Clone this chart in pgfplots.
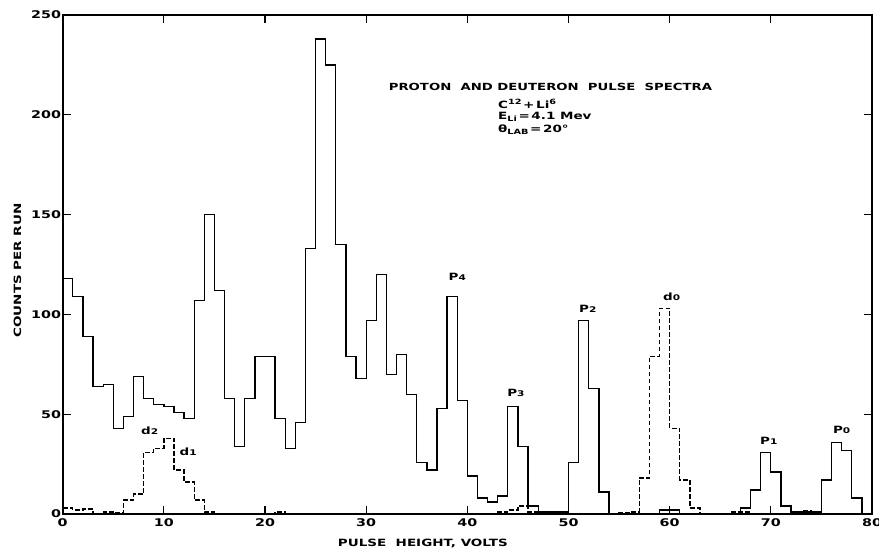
\documentclass[border=0pt]{standalone}
\usepackage{pgfplots}
\pgfplotsset{compat=1.18}
\usepackage{fontspec}
\usetikzlibrary{calc}
\newfontfamily\lbl{DejaVu Sans}[FakeStretch=1.35]
\newcommand{\sm}[1]{{\fontsize{3.9}{4}\selectfont #1}}
\newcommand{\up}[1]{\raisebox{1.6pt}{\fontsize{3.6}{4}\selectfont #1}}
\newcommand{\dn}[1]{\raisebox{-1.2pt}{\fontsize{3.6}{4}\selectfont #1}}

% proton spectrum (solid), value held from x to x+1
\pgfplotstableread{
x y
0 118
1 109
2 89
3 64
4 65
5 43
6 49
7 69
8 58
9 55
10 54
11 51
12 48
13 107
14 150
15 112
16 58
17 34
18 58
19 79
20 79
21 48
22 33
23 46
24 133
25 238
26 225
27 135
28 79
29 68
30 97
31 120
32 70
33 80
34 60
35 26
36 22
37 53
38 109
39 57
40 19
41 8
42 6
43 9
44 54
45 34
46 4
47 1
48 1
49 1
50 26
51 97
52 63
53 11
54 0
58 0
59 2
60 2
61 0
66 0
67 3
68 12
69 31
70 21
71 4
72 1
73 1
74 1
75 17
76 36
77 32
78 8
79 0
80 0
}\protons

% deuteron spectrum (dashed)
\pgfplotstableread{
x y
0 3
1 2
2 2.5
3 0
4 1
5 0.5
6 7
7 10
8 31
9 33
10 38
11 22
12 16
13 7
14 1
15 0
21 1
22 0
43 1
44 2
45 4
46 1
47 0
49 1
50 0
55 0.5
56 1
57 18
58 79
59 103
60 43
61 17
62 3
63 0
66 1
68 0
73 1.5
74 0
80 0
}\deuterons

\begin{document}
\begin{tikzpicture}
\begin{axis}[
  scale only axis,
  width=404.6pt, height=249.5pt,
  xmin=0, xmax=80, ymin=0, ymax=250,
  xtick={0,10,...,80}, ytick={0,50,...,250},
  axis line style={line width=0.8pt},
  major tick length=4pt,
  tick style={line width=0.6pt, black},
  tick label style={font=\lbl\bfseries\fontsize{5.3}{6}\selectfont},
  /pgf/number format/assume math mode=true,
  yticklabel style={inner sep=0.6pt},
  xticklabel style={inner sep=1pt, yshift=-1.3pt},
  clip=false,
]
\addplot[const plot mark left, black, line width=0.65pt] table {\protons};
\addplot[const plot mark left, black, line width=0.65pt,
  dash pattern=on 2.4pt off 1.1pt] table {\deuterons};

\begin{scope}[every node/.style={font=\lbl\bfseries\fontsize{5}{6}\selectfont, inner sep=0pt}]
\node[anchor=west, font=\lbl\bfseries\fontsize{4.9}{6}\selectfont] at (axis cs:32.2,214) {PROTON \ AND DEUTERON \ PULSE \ SPECTRA};
\node[anchor=west] at (axis cs:43,205.5) {C\up{12}\,+\,Li\up{6}};
\node[anchor=west] at (axis cs:43,199) {E\dn{Li}\,=\,4.1 Mev};
\node[anchor=west] at (axis cs:43,192.5) {θ\dn{LAB}\,=\,20°};

\node at (axis cs:8.6,41.5) {d\sm{2}};
\node at (axis cs:12.4,31.3) {d\sm{1}};
\node at (axis cs:39.0,118.6) {P\sm{4}};
\node at (axis cs:44.8,60.5) {P\sm{3}};
\node at (axis cs:51.9,102.9) {P\sm{2}};
\node at (axis cs:60.2,108.9) {d\sm{0}};
\node at (axis cs:69.8,36.5) {P\sm{1}};
\node at (axis cs:77.0,42.2) {P\sm{0}};

\node[anchor=center] at ($(axis cs:35.6,0)+(0,-14.5pt)$) {PULSE \ HEIGHT, VOLTS};
\node[rotate=90] at ($(axis cs:0,122)+(-22.6pt,0)$) {COUNTS PER RUN};
\end{scope}

\coordinate (ll) at (rel axis cs:0,0);
\coordinate (ur) at (rel axis cs:1,1);
\end{axis}
\pgfresetboundingbox
\path ($(ll)+(-31.35pt,-18pt)$) rectangle ($(ur)+(3.5pt,7.5pt)$);
\end{tikzpicture}
\end{document}
